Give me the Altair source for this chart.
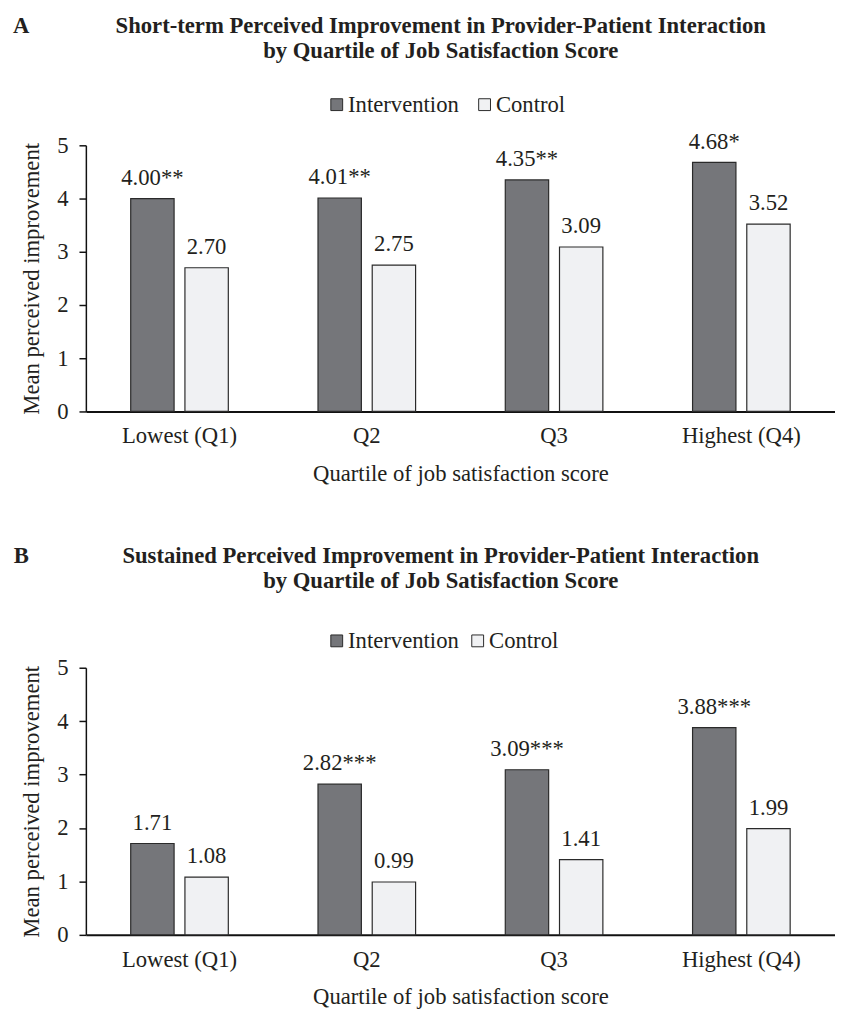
import altair as alt
import pandas as pd

quartiles = ["Lowest (Q1)", "Q2", "Q3", "Highest (Q4)"]
groups = ["Intervention", "Control"]

a_intervention = [4.00, 4.01, 4.35, 4.68]
a_control = [2.70, 2.75, 3.09, 3.52]
a_int_labels = ["4.00**", "4.01**", "4.35**", "4.68*"]
a_ctrl_labels = ["2.70", "2.75", "3.09", "3.52"]

b_intervention = [1.71, 2.82, 3.09, 3.88]
b_control = [1.08, 0.99, 1.41, 1.99]
b_int_labels = ["1.71", "2.82***", "3.09***", "3.88***"]
b_ctrl_labels = ["1.08", "0.99", "1.41", "1.99"]

title_a = ["Short-term Perceived Improvement in Provider-Patient Interaction",
           "by Quartile of Job Satisfaction Score"]
title_b = ["Sustained Perceived Improvement in Provider-Patient Interaction",
           "by Quartile of Job Satisfaction Score"]
y_title = "Mean perceived improvement"
x_title = "Quartile of job satisfaction score"
y_ticks = [0, 1, 2, 3, 4, 5]

FONT = "Liberation Serif"
INK = "#231f20"
FS = 23


def make_df(iv, cv, il, cl):
    rows = []
    for q, v, l in zip(quartiles, iv, il):
        rows.append({"quartile": q, "group": "Intervention", "value": v, "label": l})
    for q, v, l in zip(quartiles, cv, cl):
        rows.append({"quartile": q, "group": "Control", "value": v, "label": l})
    return pd.DataFrame(rows)


def panel(df, letter, title, height, title_y, legend_y, col_pad):
    base = alt.Chart(df)
    x = alt.X("quartile:N", sort=quartiles, title=x_title,
              scale=alt.Scale(paddingInner=0, paddingOuter=0),
              axis=alt.Axis(labelAngle=0, ticks=False, labelPadding=14,
                            titlePadding=15, domainWidth=2, domainColor="#111"))
    xo = alt.XOffset("group:N", sort=groups,
                     scale=alt.Scale(paddingInner=0.2, paddingOuter=0.827))
    y = alt.Y("value:Q", title=y_title,
              scale=alt.Scale(domain=[0, 5], nice=False),
              axis=alt.Axis(values=y_ticks, grid=False, tickSize=7, labelPadding=11,
                            titlePadding=14, domainWidth=1.5, domainColor="#111",
                            tickColor="#111", tickWidth=1.5, format="d"))
    bars = base.mark_bar(stroke="#2a2a2a", strokeWidth=1.2).encode(
        x=x, xOffset=xo, y=y,
        color=alt.Color("group:N", sort=groups,
                        scale=alt.Scale(domain=groups, range=["#75767a", "#f0f1f3"]),
                        legend=alt.Legend(title=None, orient="none", direction="horizontal",
                                          legendX=243, legendY=legend_y,
                                          symbolType="square", symbolSize=144,
                                          symbolStrokeColor="#2a2a2a", symbolStrokeWidth=1,
                                          labelFontSize=FS, labelFont=FONT, labelColor=INK,
                                          labelOffset=0, columnPadding=col_pad)),
    )
    labels = base.mark_text(baseline="alphabetic", dy=-14, fontSize=FS, font=FONT,
                            color=INK).encode(
        x=alt.X("quartile:N", sort=quartiles), xOffset=alt.XOffset("group:N", sort=groups),
        y="value:Q", text="label:N")
    head_df = pd.DataFrame({"t": [letter, title[0], title[1]],
                            "row": [0, 0, 1], "kind": ["letter", "title", "title"]})
    letter_mark = alt.Chart(head_df).transform_filter(
        alt.datum.kind == "letter").mark_text(
        fontSize=FS, fontWeight="bold", font=FONT, color=INK, align="center",
        baseline="alphabetic").encode(
        text="t:N", x=alt.value(-65.5), y=alt.value(title_y))
    line1 = alt.Chart(head_df).transform_filter(
        (alt.datum.kind == "title") & (alt.datum.row == 0)).mark_text(
        fontSize=FS, fontWeight="bold", font=FONT, color=INK, align="center",
        baseline="alphabetic").encode(
        text="t:N", x=alt.value(360), y=alt.value(title_y))
    line2 = alt.Chart(head_df).transform_filter(
        (alt.datum.kind == "title") & (alt.datum.row == 1)).mark_text(
        fontSize=FS, fontWeight="bold", font=FONT, color=INK, align="center",
        baseline="alphabetic").encode(
        text="t:N", x=alt.value(360), y=alt.value(title_y + 25.5))
    return alt.layer(bars, labels, letter_mark, line1, line2).properties(
        width=760, height=height)


chart_a = panel(make_df(a_intervention, a_control, a_int_labels, a_ctrl_labels),
                "A", title_a, 270, -114, -53, 14)
chart_b = panel(make_df(b_intervention, b_control, b_int_labels, b_ctrl_labels),
                "B", title_b, 271, -106, -39, 7)

chart = alt.vconcat(chart_a, chart_b, spacing=61).resolve_scale(
    color="independent").configure(
    font=FONT, padding={"left": 5, "right": 0, "top": 0, "bottom": 0}
).configure_axis(
    labelFont=FONT, titleFont=FONT, labelFontSize=FS, titleFontSize=FS,
    labelColor=INK, titleColor=INK, titleFontWeight="normal"
).configure_view(stroke=None)

chart.save("out.html", embed_options={"renderer": "svg", "actions": False})
